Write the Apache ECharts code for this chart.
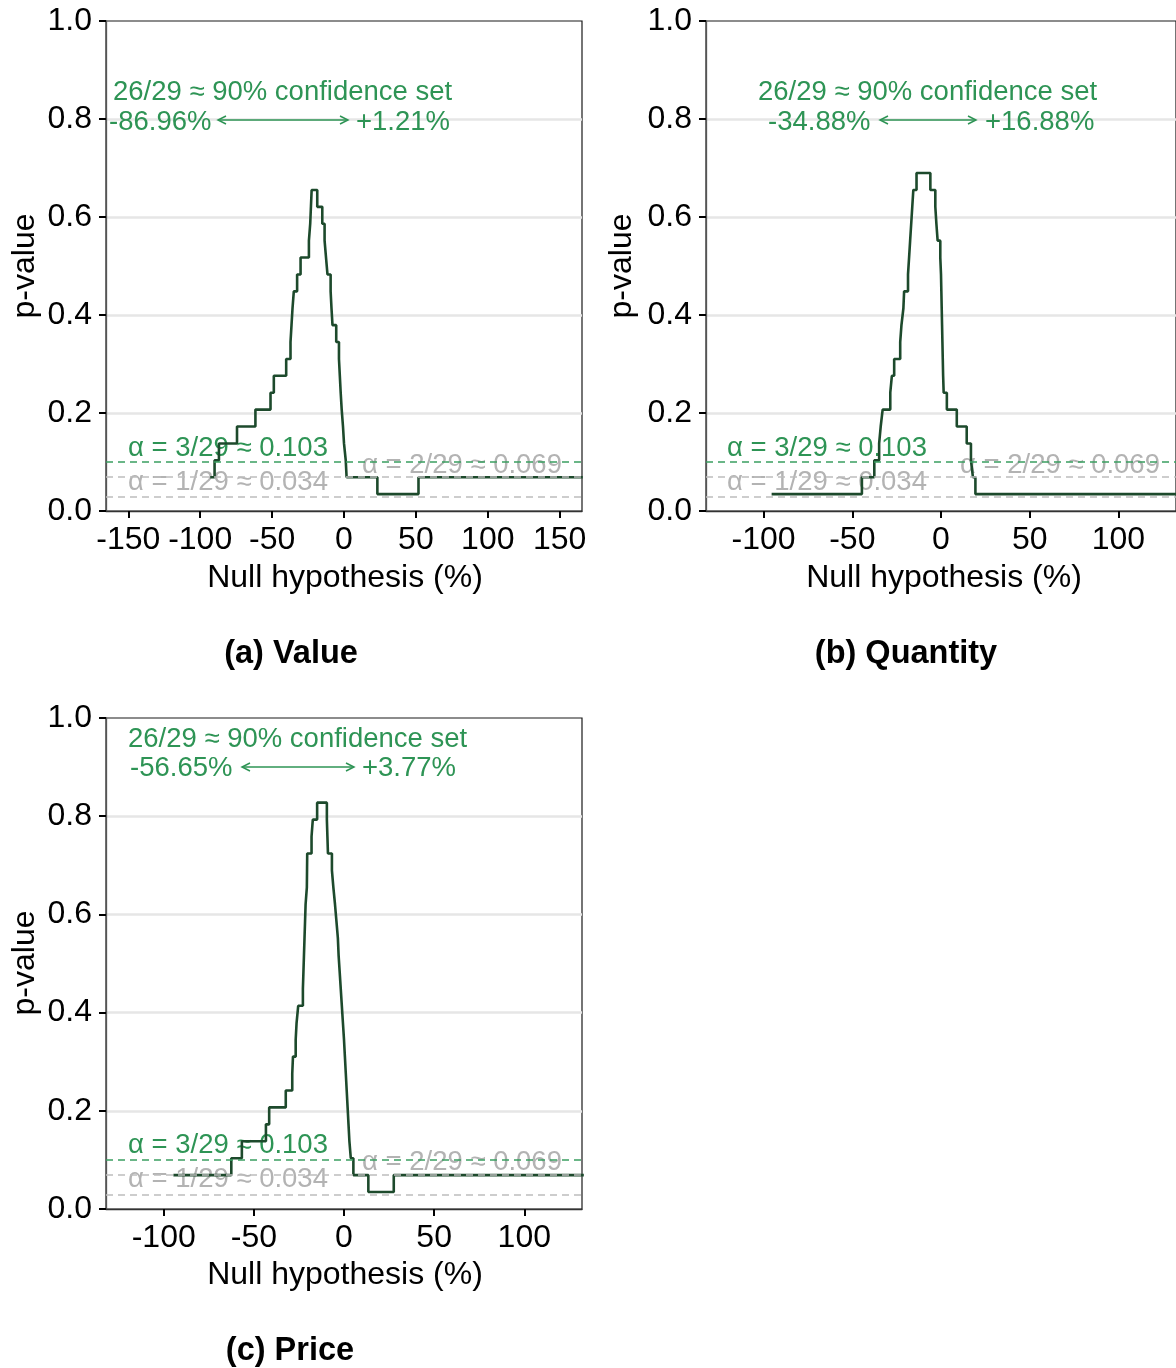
<!DOCTYPE html>
<html><head><meta charset="utf-8">
<script src="https://cdn.jsdelivr.net/npm/echarts@6/dist/echarts.min.js"></script>
<style>html,body{margin:0;padding:0;background:#fff}#c{width:1176px;height:1368px}</style>
</head><body><div id="c"></div>
<script>
// ---- data ----
// Panel (a) Value: step starts (null hypothesis %) and p-values
const valueX = [-93.0, -90.0, -86.96, -74.4, -61.6, -51.1, -48.8, -40.2, -37.2, -36.5, -35.8, -34.9, -32.6, -30.2, -24.4, -23.5, -22.5, -18.6, -15.1, -13.5, -12.5, -11.5, -9.3, -8.7, -8.0, -5.4, -3.5, -2.9, -2.3, -1.6, -0.7, 0.0, 1.21, 1.8, 23.2, 51.8, 166];
const valueP = [0.0690, 0.1034, 0.1379, 0.1724, 0.2069, 0.2414, 0.2759, 0.3103, 0.3448, 0.3793, 0.4138, 0.4483, 0.4828, 0.5172, 0.5517, 0.5862, 0.6552, 0.6207, 0.5862, 0.5517, 0.5172, 0.4828, 0.4483, 0.4138, 0.3793, 0.3448, 0.3103, 0.2759, 0.2414, 0.2069, 0.1724, 0.1379, 0.1034, 0.0690, 0.0345, 0.0690, 0.0690];
// Panel (b) Quantity
const quantityX = [-95.5, -44.6, -37.6, -34.88, -34.0, -32.9, -28.6, -27.7, -26.4, -23.0, -22.3, -21.2, -20.8, -18.6, -18.0, -17.4, -16.8, -16.2, -15.6, -13.8, -6.0, -3.2, -2.6, -1.9, -0.4, 0.0, 0.2, 0.4, 0.6, 0.8, 1.0, 1.2, 1.5, 3.3, 8.9, 14.5, 16.88, 18.0, 19.4, 134];
const quantityP = [0.0345, 0.0690, 0.1034, 0.1379, 0.1724, 0.2069, 0.2414, 0.2759, 0.3103, 0.3448, 0.3793, 0.4138, 0.4483, 0.4828, 0.5172, 0.5517, 0.5862, 0.6207, 0.6552, 0.6897, 0.6552, 0.6207, 0.5862, 0.5517, 0.5172, 0.4828, 0.4483, 0.4138, 0.3793, 0.3448, 0.3103, 0.2759, 0.2414, 0.2069, 0.1724, 0.1379, 0.1034, 0.0690, 0.0345, 0.0345];
// Panel (c) Price
const priceX = [-94.6, -62.5, -56.65, -43.3, -41.5, -32.3, -28.7, -28.3, -26.8, -26.3, -25.4, -22.8, -22.5, -22.2, -21.9, -21.6, -21.3, -20.6, -20.5, -20.4, -18.0, -17.3, -14.9, -9.5, -9.2, -8.9, -6.7, -5.9, -5.0, -4.2, -3.4, -3.0, -2.4, -1.8, -1.2, -0.6, 0.0, 0.5, 1.0, 1.5, 2.0, 2.5, 3.0, 3.77, 5.2, 13.5, 27.6, 133];
const priceP = [0.0690, 0.1034, 0.1379, 0.1724, 0.2069, 0.2414, 0.2759, 0.3103, 0.3448, 0.3793, 0.4138, 0.4483, 0.4828, 0.5172, 0.5517, 0.5862, 0.6207, 0.6552, 0.6897, 0.7241, 0.7586, 0.7931, 0.8276, 0.7931, 0.7586, 0.7241, 0.6897, 0.6552, 0.6207, 0.5862, 0.5517, 0.5172, 0.4828, 0.4483, 0.4138, 0.3793, 0.3448, 0.3103, 0.2759, 0.2414, 0.2069, 0.1724, 0.1379, 0.1034, 0.0690, 0.0345, 0.0690, 0.0690];

const xTicksA = [-150, -100, -50, 0, 50, 100, 150];
const xTicksBC = [-100, -50, 0, 50, 100];
const alphaGreen = 0.1034;        // 3/29
const alphaGray = [0.0690, 0.0345]; // 2/29, 1/29

const panelTitles = ['(a) Value', '(b) Quantity', '(c) Price'];
const setBounds = [['-86.96%', '+1.21%'], ['-34.88%', '+16.88%'], ['-56.65%', '+3.77%']];
const alphaTexts = ['α = 3/29 ≈ 0.103', 'α = 2/29 ≈ 0.069', 'α = 1/29 ≈ 0.034'];
const setText = '26/29 ≈ 90% confidence set';
const xName = 'Null hypothesis (%)';
const yName = 'p-value';

// ---- styling / layout ----
const FONT = '"Liberation Sans", Arial, sans-serif';
const GREEN_TXT = '#2e9455';
const GREEN_DASH = '#3a9e60';
const GRAY_TXT = '#b3b3b3';
const GRAY_DASH = '#bdbdbd';
const LINE_COL = '#1d4a2c';

const grids = [
  {left: 106, top: 21, width: 476, height: 490},
  {left: 706, top: 21, width: 476, height: 490},
  {left: 106, top: 718, width: 476, height: 491}
];
const xRanges = [[-165.5, 165.5], [-132.5, 132.5], [-132, 132]];
const xTickSets = [xTicksA, xTicksBC, xTicksBC];
const series = [[valueX, valueP], [quantityX, quantityP], [priceX, priceP]];

const chart = echarts.init(document.getElementById('c'), null, {renderer: 'canvas'});

const option = {
  animation: false,
  backgroundColor: '#fff',
  grid: grids.map(g => Object.assign({show: true, borderColor: '#1a1a1a', borderWidth: 1.2, backgroundColor: 'transparent'}, g)),
  xAxis: grids.map((g, i) => ({
    gridIndex: i, type: 'value', min: xRanges[i][0], max: xRanges[i][1],
    axisLine: {show: true, onZero: false, lineStyle: {color: '#333', width: 1.3}},
    axisTick: {show: true, customValues: xTickSets[i], length: 7, lineStyle: {color: '#000', width: 2}},
    axisLabel: {customValues: xTickSets[i], fontSize: 32, color: '#000', margin: 13, fontFamily: FONT},
    splitLine: {show: false}
  })),
  yAxis: grids.map((g, i) => ({
    gridIndex: i, type: 'value', min: 0, max: 1, interval: 0.2,
    axisLine: {show: true, onZero: false, lineStyle: {color: '#555', width: 1.3}},
    axisTick: {show: true, length: 7, lineStyle: {color: '#000', width: 2}},
    axisLabel: {fontSize: 32, color: '#000', margin: 14, fontFamily: FONT, formatter: v => v.toFixed(1)},
    splitLine: {show: true, showMinLine: false, showMaxLine: false, lineStyle: {color: '#e6e6e6', width: 2.5}}
  })),
  series: []
};

series.forEach((s, i) => {
  option.series.push({
    type: 'line', xAxisIndex: i, yAxisIndex: i, step: 'end', symbol: 'none', showSymbol: false,
    clip: true, z: 3, silent: true,
    lineStyle: {color: LINE_COL, width: 2.6},
    data: s[0].map((x, j) => [x, s[1][j]])
  });
  option.series.push({
    type: 'line', xAxisIndex: i, yAxisIndex: i, data: [], z: 4, silent: true,
    markLine: {
      symbol: 'none', silent: true, animation: false, label: {show: false},
      data: [
        {yAxis: alphaGreen, lineStyle: {color: GREEN_DASH, type: [7, 5], width: 1.5}},
        {yAxis: alphaGray[0], lineStyle: {color: GRAY_DASH, type: [7, 5], width: 1.5}},
        {yAxis: alphaGray[1], lineStyle: {color: GRAY_DASH, type: [7, 5], width: 1.5}}
      ]
    }
  });
});

// text annotations
const gfx = [];
function txt(text, x, y, opt) {
  gfx.push(Object.assign({type: 'text', x: x, y: y, z: 1, silent: true,
    style: Object.assign({text: text, font: '27.5px ' + FONT, fill: GREEN_TXT, align: 'left', verticalAlign: 'middle'}, opt || {})}));
}
function arrow(x0, x1, y) {
  const st = {stroke: GREEN_TXT, lineWidth: 1.5, fill: null};
  gfx.push({type: 'line', z: 1, silent: true, shape: {x1: x0, y1: y, x2: x1, y2: y}, style: st});
  gfx.push({type: 'polyline', z: 1, silent: true, shape: {points: [[x0 + 8, y - 4], [x0, y], [x0 + 8, y + 4]]}, style: st});
  gfx.push({type: 'polyline', z: 1, silent: true, shape: {points: [[x1 - 8, y - 4], [x1, y], [x1 - 8, y + 4]]}, style: st});
}
const ann = [
  {set: [113, 92], lo: [109, 122], arr: [218, 348, 120], hi: [356, 122], a3: [128, 448], a1: [128, 482], a2: [362, 465]},
  {set: [758, 92], lo: [768, 122], arr: [880, 976, 120], hi: [985, 122], a3: [727, 448], a1: [727, 482], a2: [960, 465]},
  {set: [128, 739], lo: [130, 768], arr: [242, 354, 767], hi: [362, 768], a3: [128, 1145], a1: [128, 1179], a2: [362, 1162]}
];
ann.forEach((a, i) => {
  txt(setText, a.set[0], a.set[1]);
  txt(setBounds[i][0], a.lo[0], a.lo[1]);
  txt(setBounds[i][1], a.hi[0], a.hi[1]);
  arrow(a.arr[0], a.arr[1], a.arr[2]);
  txt(alphaTexts[0], a.a3[0], a.a3[1]);
  txt(alphaTexts[2], a.a1[0], a.a1[1], {fill: GRAY_TXT});
  txt(alphaTexts[1], a.a2[0], a.a2[1], {fill: GRAY_TXT});
});
// axis titles & panel titles
const xNamePos = [[345, 578], [944, 578], [345, 1275]];
const yNamePos = [[25, 266], [622, 266], [25, 963]];
const titlePos = [[291, 654], [906, 654], [290, 1351]];
for (let i = 0; i < 3; i++) {
  txt(xName, xNamePos[i][0], xNamePos[i][1], {font: '32px ' + FONT, fill: '#000', align: 'center'});
  gfx.push({type: 'text', x: yNamePos[i][0], y: yNamePos[i][1], rotation: Math.PI / 2, silent: true,
    style: {text: yName, font: '32px ' + FONT, fill: '#000', align: 'center', verticalAlign: 'middle'}});
  txt(panelTitles[i], titlePos[i][0], titlePos[i][1], {font: 'bold 32.5px ' + FONT, fill: '#000', align: 'center'});
}
option.graphic = {elements: gfx};

chart.setOption(option);
</script>
</body></html>
